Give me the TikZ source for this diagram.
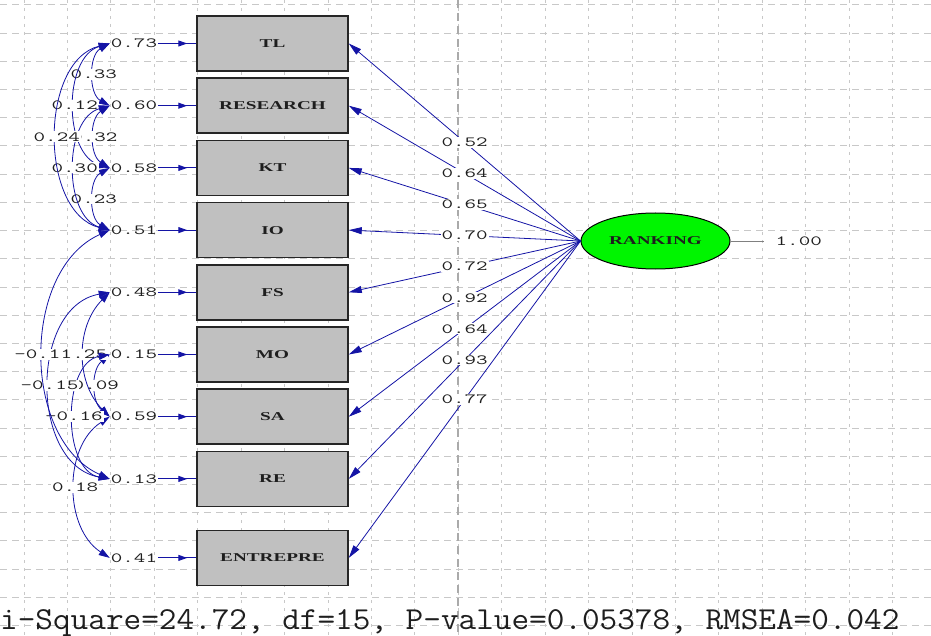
\documentclass[tikz,border=0pt]{standalone}
\usepackage{fontspec}
\usepackage{tikz}
\usetikzlibrary{positioning,arrows.meta,shapes.geometric}
\newfontfamily\numfont[FakeStretch=1.6]{Latin Modern Mono}
\newfontfamily\bigfont[FakeStretch=1.07]{Latin Modern Mono}
\newfontfamily\boxfont[FakeStretch=1.6]{Liberation Serif}
\definecolor{pathblue}{RGB}{20,20,165}
\definecolor{gridgray}{RGB}{200,200,200}
\definecolor{boxgray}{RGB}{192,192,192}
\definecolor{latgreen}{RGB}{0,245,0}
\definecolor{txt}{RGB}{30,30,30}

\begin{document}
\begin{tikzpicture}[x=1pt, y=-1pt, node distance=5.7pt,
  obs/.style = {draw=black!85, line width=1.5pt, fill=boxgray, minimum width=151pt, minimum height=55pt, inner sep=0pt, text=txt, font=\boxfont\bfseries\fontsize{12}{12}\selectfont},
  lat/.style = {draw, ellipse, line width=1pt, fill=latgreen, minimum width=149pt, minimum height=56pt, inner sep=0pt, text=txt, font=\boxfont\bfseries\fontsize{12}{12}\selectfont},
  num/.style = {inner sep=1pt, text=txt, font=\numfont\fontsize{14}{14}\selectfont},
  lbl/.style = {num, fill=white, midway},
  load/.style = {pathblue, line width=0.8pt, -{Triangle[length=13pt,width=7pt]}},
  epsline/.style = {pathblue, line width=1pt},
  eps/.style = {pathblue, line width=1pt, -{Triangle[length=9pt,width=6pt]}, shorten >=9pt},
  cov/.style = {pathblue, line width=0.8pt, {Triangle[length=11pt,width=7pt]}-{Triangle[length=11pt,width=7pt]}},
  hgrid/.style = {gridgray, line width=1pt, dash pattern=on 7pt off 5pt},
  vgrid/.style = {gridgray, line width=1pt, dash pattern=on 3pt off 5pt}]
\useasboundingbox (0,0) rectangle (931,636);

% grid
\foreach \j in {0,...,22} \draw[hgrid] (0,{5+28.2*\j}) -- (931,{5+28.2*\j});
\foreach \i in {0,...,20} \draw[vgrid] ({24+43.43*\i},0) -- ({24+43.43*\i},636);
\draw[gridgray!85!black, line width=2pt, dash pattern=on 8pt off 5pt] (458.3,0) -- (458.3,636);

% observed variables
\node[obs] (TL) at (272.5,43.5) {TL};
\node[obs] (RES) [below=of TL] {RESEARCH};
\node[obs] (KT) [below=of RES] {KT};
\node[obs] (IO) [below=of KT] {IO};
\node[obs] (FS) [below=of IO] {FS};
\node[obs] (MO) [below=of FS] {MO};
\node[obs] (SA) [below=of MO] {SA};
\node[obs] (RE) [below=of SA] {RE};
\node[obs] (ENT) [below=22.5pt of RE] {ENTREPRE};

% latent variable
\node[lat] (R) at (655.5,241) {RANKING};
\node[num] (v) [right=44pt of R] {1.00};
\draw[gray, line width=0.8pt, shorten >=11pt] (R) -- (v);

% loadings
\draw[load] (R.west) -- node[lbl] {0.52} (TL.east);
\draw[load] (R.west) -- node[lbl] {0.64} (RES.east);
\draw[load] (R.west) -- node[lbl] {0.65} (KT.east);
\draw[load] (R.west) -- node[lbl] {0.70} (IO.east);
\draw[load] (R.west) -- node[lbl] {0.72} (FS.east);
\draw[load] (R.west) -- node[lbl] {0.92} (MO.east);
\draw[load] (R.west) -- node[lbl] {0.64} (SA.east);
\draw[load] (R.west) -- node[lbl] {0.93} (RE.east);
\draw[load] (R.west) -- node[lbl] {0.77} (ENT.east);

% error variances
\node[num] (eTL) [left=38pt of TL] {0.73};
\node[num] (eRES) [left=38pt of RES] {0.60};
\node[num] (eKT) [left=38pt of KT] {0.58};
\node[num] (eIO) [left=38pt of IO] {0.51};
\node[num] (eFS) [left=38pt of FS] {0.48};
\node[num] (eMO) [left=38pt of MO] {0.15};
\node[num] (eSA) [left=38pt of SA] {0.59};
\node[num] (eRE) [left=38pt of RE] {0.13};
\node[num] (eENT) [left=38pt of ENT] {0.41};
\foreach \e/\b in {eTL/TL, eRES/RES, eKT/KT, eIO/IO, eFS/FS, eMO/MO, eSA/SA, eRE/RE, eENT/ENT} {
  \draw[epsline] (\e) -- (\b);
  \draw[eps] (\e) -- (\b);
}

% error covariances
\draw[cov] (eTL.west) to[bend right=61] node[lbl] {0.33} (eRES.west);
\draw[cov] (eRES.west) to[bend right=58] node[lbl] {0.32} (eKT.west);
\draw[cov] (eKT.west) to[bend right=61] node[lbl] {0.23} (eIO.west);
\draw[cov] (eTL.west) to[bend right=74] node[lbl] {0.12} (eKT.west);
\draw[cov] (eRES.west) to[bend right=74] node[lbl] {0.30} (eIO.west);
\draw[cov] (eTL.west) to[bend right=76] node[lbl] {0.24} (eIO.west);
\draw[cov] (eMO.west) to[bend right=50] node[lbl] {0.09} (eSA.west);
\draw[cov] (eFS.west) to[bend right=45] node[lbl] {0.25} (eSA.west);
\draw[cov] (eSA.west) to[bend right=57] node[lbl] {0.18} (eENT.west);
\draw[cov] (eMO.west) to[bend right=80] node[lbl] {-0.16} (eRE.west);
\draw[cov] (eFS.west) to[bend right=80, looseness=1.12] node[lbl] {-0.15} (eRE.west);
\draw[cov] (eIO.west) to[bend right=66] node[lbl] {-0.11} (eRE.west);

% fit statistics
\node[anchor=base west, inner sep=0pt, text=txt, font=\bigfont\fontsize{32}{32}\selectfont] (fit) at (0,629) {i-Square=24.72, df=15, P-value=0.05378, RMSEA=0.042};
\end{tikzpicture}
\end{document}
